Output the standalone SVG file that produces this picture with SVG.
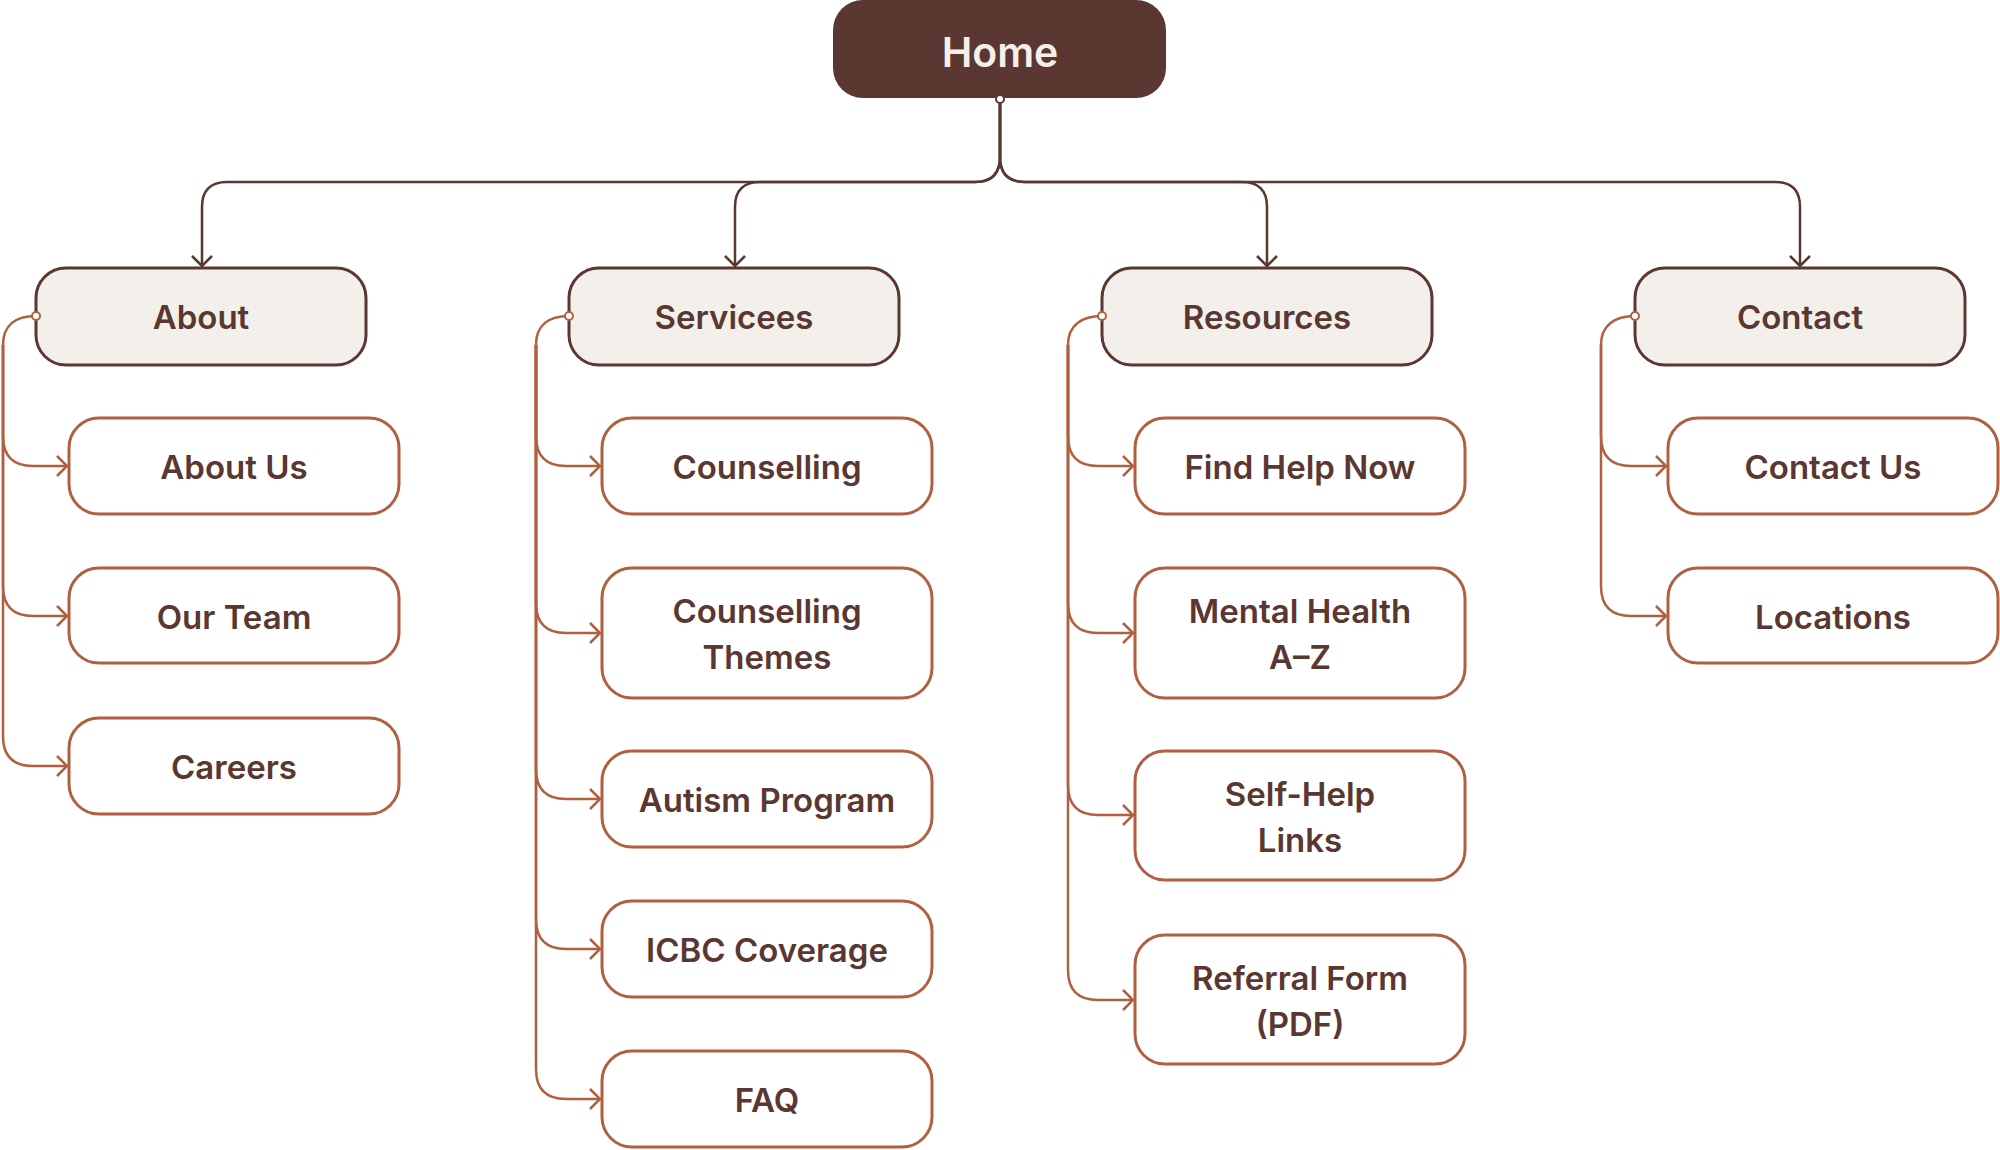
<svg xmlns="http://www.w3.org/2000/svg" width="2000" height="1150" viewBox="0 0 2000 1150">
<style>
text{font-family:Inter,"Noto Sans","Liberation Sans",sans-serif;font-weight:600;font-size:33px;fill:#5a3730;text-anchor:middle;dominant-baseline:central}
.cat{fill:#f3f0eb;stroke:#5a3730;stroke-width:3}
.ch{fill:#fff;stroke:#b0603f;stroke-width:3}
.dl{fill:none;stroke:#5a3730;stroke-width:2.5}
.tl{fill:none;stroke:#b0603f;stroke-width:2.5}
</style>
<defs>
<marker id="ad" markerUnits="userSpaceOnUse" markerWidth="24" markerHeight="24" refX="12" refY="12" orient="auto"><path d="M2,2 L12,12 L2,22" fill="none" stroke="#5a3730" stroke-width="2.5"/></marker>
<marker id="at" markerUnits="userSpaceOnUse" markerWidth="24" markerHeight="24" refX="12" refY="12" orient="auto"><path d="M2,2 L12,12 L2,22" fill="none" stroke="#b0603f" stroke-width="2.5"/></marker>
</defs>
<g id="connectors">
<path class="dl" d="M1000 98 V157 Q1000 182 975 182 H227 Q202 182 202 207 V266" marker-end="url(#ad)"/>
<path class="dl" d="M1000 98 V157 Q1000 182 975 182 H760 Q735 182 735 207 V266" marker-end="url(#ad)"/>
<path class="dl" d="M1000 98 V157 Q1000 182 1025 182 H1242 Q1267 182 1267 207 V266" marker-end="url(#ad)"/>
<path class="dl" d="M1000 98 V157 Q1000 182 1025 182 H1775 Q1800 182 1800 207 V266" marker-end="url(#ad)"/>
<path class="tl" d="M36 316 C16 316 3 325 3 345 V436 Q3 466 33 466 H67" marker-end="url(#at)"/>
<path class="tl" d="M3 345 V586 Q3 616 33 616 H67" marker-end="url(#at)"/>
<path class="tl" d="M3 345 V736 Q3 766 33 766 H67" marker-end="url(#at)"/>
<path class="tl" d="M569 316 C549 316 536 325 536 345 V436 Q536 466 566 466 H600" marker-end="url(#at)"/>
<path class="tl" d="M536 345 V603 Q536 633 566 633 H600" marker-end="url(#at)"/>
<path class="tl" d="M536 345 V769 Q536 799 566 799 H600" marker-end="url(#at)"/>
<path class="tl" d="M536 345 V919 Q536 949 566 949 H600" marker-end="url(#at)"/>
<path class="tl" d="M536 345 V1069 Q536 1099 566 1099 H600" marker-end="url(#at)"/>
<path class="tl" d="M1102 316 C1082 316 1068 325 1068 345 V436 Q1068 466 1098 466 H1133" marker-end="url(#at)"/>
<path class="tl" d="M1068 345 V603 Q1068 633 1098 633 H1133" marker-end="url(#at)"/>
<path class="tl" d="M1068 345 V785 Q1068 815 1098 815 H1133" marker-end="url(#at)"/>
<path class="tl" d="M1068 345 V970 Q1068 1000 1098 1000 H1133" marker-end="url(#at)"/>
<path class="tl" d="M1635 316 C1615 316 1601 325 1601 345 V436 Q1601 466 1631 466 H1666" marker-end="url(#at)"/>
<path class="tl" d="M1601 345 V586 Q1601 616 1631 616 H1666" marker-end="url(#at)"/>
</g>
<g id="home"><rect x="833" y="0" width="333" height="98" rx="30" fill="#5a3730"/><text x="1000" y="52" style="fill:#f6efe9;font-size:41px">Home</text><circle cx="1000" cy="99" r="4" fill="#fff" stroke="#5a3730" stroke-width="2"/></g>
<g id="about"><rect class="cat" x="36" y="268" width="330" height="97" rx="30"/><text x="201" y="317">About</text></g>
<g id="services"><rect class="cat" x="569" y="268" width="330" height="97" rx="30"/><text x="734" y="317">Servicees</text></g>
<g id="resources"><rect class="cat" x="1102" y="268" width="330" height="97" rx="30"/><text x="1267" y="317">Resources</text></g>
<g id="contact"><rect class="cat" x="1635" y="268" width="330" height="97" rx="30"/><text x="1800" y="317">Contact</text></g>
<g fill="#fff" stroke="#b0603f" stroke-width="2">
<circle cx="36" cy="316" r="4"/><circle cx="569" cy="316" r="4"/><circle cx="1102" cy="316" r="4"/><circle cx="1635" cy="316" r="4"/>
</g>
<g id="about-us"><rect class="ch" x="69" y="418" width="330" height="96" rx="30"/><text x="234" y="467">About Us</text></g>
<g id="our-team"><rect class="ch" x="69" y="568" width="330" height="95" rx="30"/><text x="234" y="617">Our Team</text></g>
<g id="careers"><rect class="ch" x="69" y="718" width="330" height="96" rx="30"/><text x="234" y="767">Careers</text></g>
<g id="counselling"><rect class="ch" x="602" y="418" width="330" height="96" rx="30"/><text x="767" y="467">Counselling</text></g>
<g id="counselling-themes"><rect class="ch" x="602" y="568" width="330" height="130" rx="30"/><text x="767" y="611">Counselling</text><text x="767" y="657">Themes</text></g>
<g id="autism"><rect class="ch" x="602" y="751" width="330" height="96" rx="30"/><text x="767" y="800">Autism Program</text></g>
<g id="icbc"><rect class="ch" x="602" y="901" width="330" height="96" rx="30"/><text x="767" y="950">ICBC Coverage</text></g>
<g id="faq"><rect class="ch" x="602" y="1051" width="330" height="96" rx="30"/><text x="767" y="1100">FAQ</text></g>
<g id="find-help"><rect class="ch" x="1135" y="418" width="330" height="96" rx="30"/><text x="1300" y="467">Find Help Now</text></g>
<g id="mental-health"><rect class="ch" x="1135" y="568" width="330" height="130" rx="30"/><text x="1300" y="611">Mental Health</text><text x="1300" y="657">A–Z</text></g>
<g id="self-help"><rect class="ch" x="1135" y="751" width="330" height="129" rx="30"/><text x="1300" y="794">Self-Help</text><text x="1300" y="840">Links</text></g>
<g id="referral"><rect class="ch" x="1135" y="935" width="330" height="129" rx="30"/><text x="1300" y="978">Referral Form</text><text x="1300" y="1024">(PDF)</text></g>
<g id="contact-us"><rect class="ch" x="1668" y="418" width="330" height="96" rx="30"/><text x="1833" y="467">Contact Us</text></g>
<g id="locations"><rect class="ch" x="1668" y="568" width="330" height="95" rx="30"/><text x="1833" y="617">Locations</text></g>
</svg>
